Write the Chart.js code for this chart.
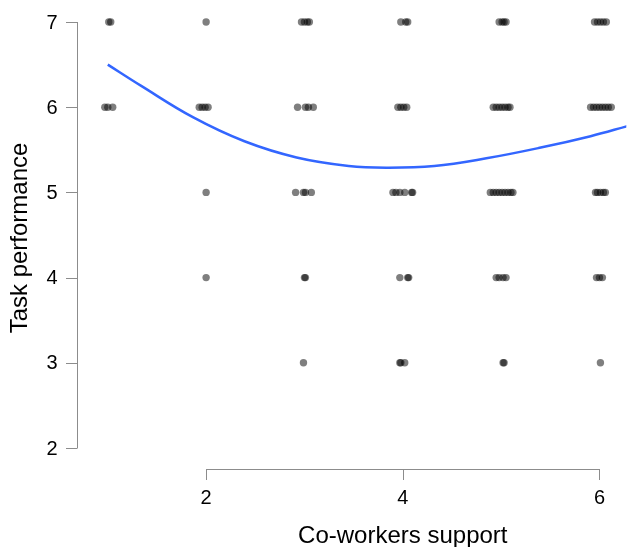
<!DOCTYPE html>
<html>
<head>
<meta charset="utf-8">
<script src="https://cdn.jsdelivr.net/npm/chart.js@4"></script>
<style>
  html, body { margin: 0; padding: 0; background: #fff; }
  #wrap { width: 630px; height: 547px; }
</style>
</head>
<body>
<div id="wrap"><canvas id="chart" width="630" height="547"></canvas></div>
<script>
// jittered co-workers support values, one list per task performance level
const supportAt7 = [1.01, 1.03, 2.00, 2.97, 3.00, 3.03, 3.05, 3.98, 4.03, 4.05, 4.98, 5.01, 5.03, 5.05, 5.95, 5.98, 6.01, 6.04, 6.07];
const supportAt6 = [0.97, 1.00, 1.05, 1.93, 1.96, 1.99, 2.02, 2.93, 3.01, 3.04, 3.09, 3.95, 3.98, 4.01, 4.04, 4.92, 4.95, 4.98, 5.01, 5.04, 5.07, 5.09, 5.91, 5.94, 5.97, 6.00, 6.03, 6.06, 6.09, 6.12];
const supportAt5 = [2.00, 2.91, 2.99, 3.01, 3.07, 3.90, 3.93, 3.97, 4.02, 4.09, 4.10, 4.89, 4.92, 4.95, 4.98, 5.01, 5.04, 5.07, 5.10, 5.12, 5.96, 5.98, 6.01, 6.04, 6.06];
const supportAt4 = [2.00, 3.00, 3.01, 3.97, 4.05, 4.06, 4.95, 4.98, 5.02, 5.05, 5.97, 6.00, 6.03];
const supportAt3 = [2.99, 3.97, 3.98, 4.02, 5.02, 5.03, 6.01];

// smoothed fit
const fitX = [1.00, 1.34, 1.87, 2.39, 2.92, 3.45, 3.83, 4.32, 4.85, 5.38, 5.91, 6.29];
const fitY = [6.50, 6.25, 5.88, 5.60, 5.41, 5.31, 5.29, 5.31, 5.40, 5.52, 5.66, 5.78];

const xTicks = [2, 4, 6];
const yTicks = [2, 3, 4, 5, 6, 7];

const points = [];
[[7, supportAt7], [6, supportAt6], [5, supportAt5], [4, supportAt4], [3, supportAt3]].forEach(([y, xs]) => {
    xs.forEach(x => points.push({ x: x, y: y }));
});
const fit = fitX.map((x, i) => ({ x: x, y: fitY[i] }));

const FONT = '"Liberation Sans", Arial, sans-serif';

const baseAxes = {
    id: 'baseAxes',
    afterDraw(chart) {
        const ctx = chart.ctx;
        const xs = chart.scales.x, ys = chart.scales.y;
        const left = chart.chartArea.left;
        const axisY = 469;
        ctx.save();
        ctx.strokeStyle = '#8c8c8c';
        ctx.lineWidth = 1;
        ctx.fillStyle = '#000';

        // y axis
        ctx.beginPath();
        ctx.moveTo(left + 0.5, ys.getPixelForValue(yTicks[0]));
        ctx.lineTo(left + 0.5, ys.getPixelForValue(yTicks[yTicks.length - 1]));
        yTicks.forEach(t => {
            const py = Math.round(ys.getPixelForValue(t)) + 0.5;
            ctx.moveTo(left - 11, py);
            ctx.lineTo(left + 0.5, py);
        });
        ctx.stroke();
        ctx.font = '20px ' + FONT;
        ctx.textAlign = 'center';
        ctx.textBaseline = 'middle';
        yTicks.forEach(t => ctx.fillText(String(t), 52, ys.getPixelForValue(t) + 1));

        // x axis
        ctx.beginPath();
        ctx.moveTo(xs.getPixelForValue(xTicks[0]), axisY + 0.5);
        ctx.lineTo(xs.getPixelForValue(xTicks[xTicks.length - 1]), axisY + 0.5);
        xTicks.forEach(t => {
            const px = Math.round(xs.getPixelForValue(t)) + 0.5;
            ctx.moveTo(px, axisY);
            ctx.lineTo(px, axisY + 11);
        });
        ctx.stroke();
        xTicks.forEach(t => ctx.fillText(String(t), xs.getPixelForValue(t), 498));

        // titles
        ctx.font = '24px ' + FONT;
        ctx.fillText('Co-workers support', xs.getPixelForValue(4), 536);
        ctx.translate(20, 238);
        ctx.rotate(-Math.PI / 2);
        ctx.fillText('Task performance', 0, 0);
        ctx.restore();
    }
};

new Chart(document.getElementById('chart'), {
    type: 'scatter',
    data: {
        datasets: [{
            data: points,
            backgroundColor: 'rgba(0,0,0,0.5)',
            borderWidth: 0,
            pointRadius: 3.7,
            pointHoverRadius: 3.7,
            clip: false
        }, {
            type: 'line',
            data: fit,
            borderColor: '#3366ff',
            borderWidth: 2.5,
            pointRadius: 0,
            tension: 0.4,
            fill: false
        }]
    },
    options: {
        responsive: false,
        animation: false,
        layout: { padding: { left: 77, right: 0, top: 22, bottom: 99 } },
        scales: {
            x: { type: 'linear', min: 0.687, max: 6.273, display: false },
            y: { type: 'linear', min: 2, max: 7, display: false }
        },
        plugins: { legend: { display: false }, tooltip: { enabled: false } }
    },
    plugins: [baseAxes]
});
</script>
</body>
</html>
